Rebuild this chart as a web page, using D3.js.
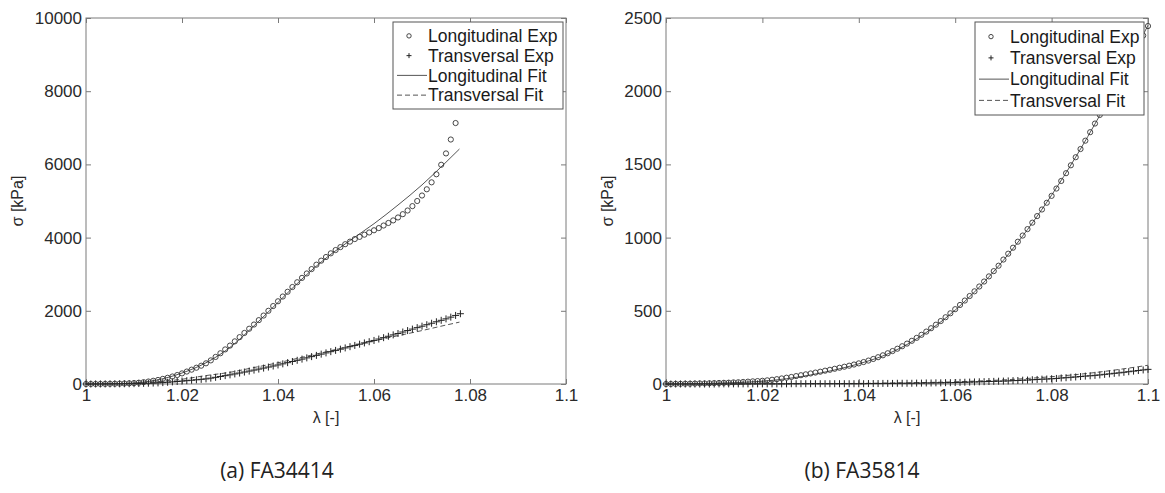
<!DOCTYPE html>
<html>
<head>
<meta charset="utf-8">
<script src="https://cdn.jsdelivr.net/npm/d3@7"></script>
<style>
  body { margin: 0; background: #fff; }
</style>
</head>
<body>
<div id="display"></div>
<script>
// ---- data ----
const xTicks = [1, 1.02, 1.04, 1.06, 1.08, 1.1];
const xTickLabels = ["1", "1.02", "1.04", "1.06", "1.08", "1.1"];
const yTicksA = [0, 2000, 4000, 6000, 8000, 10000];
const yTicksB = [0, 500, 1000, 1500, 2000, 2500];
const legendLabels = ["Longitudinal Exp", "Transversal Exp", "Longitudinal Fit", "Transversal Fit"];
const captions = ["(a) FA34414", "(b) FA35814"];

// (a) FA34414
const lamA = [1.000,1.001,1.002,1.003,1.004,1.005,1.006,1.007,1.008,1.009,
  1.010,1.011,1.012,1.013,1.014,1.015,1.016,1.017,1.018,1.019,
  1.020,1.021,1.022,1.023,1.024,1.025,1.026,1.027,1.028,1.029,
  1.030,1.031,1.032,1.033,1.034,1.035,1.036,1.037,1.038,1.039,
  1.040,1.041,1.042,1.043,1.044,1.045,1.046,1.047,1.048,1.049,
  1.050,1.051,1.052,1.053,1.054,1.055,1.056,1.057,1.058,1.059,
  1.060,1.061,1.062,1.063,1.064,1.065,1.066,1.067,1.068,1.069,
  1.070,1.071,1.072,1.073,1.074,1.075,1.076,1.077,1.078];
const longExpA = [0,0,1,2,3,5,7,10,14,19,
  25,36,50,68,88,110,140,170,205,245,
  290,340,392,445,500,565,645,740,840,945,
  1050,1165,1280,1395,1510,1625,1745,1870,2000,2130,
  2260,2390,2520,2650,2780,2900,3020,3140,3260,3370,
  3470,3570,3660,3740,3820,3890,3960,4020,4080,4140,
  4200,4260,4330,4400,4470,4550,4640,4740,4860,5000,
  5150,5320,5510,5730,5990,6300,6680,7130];
const transExpA = [0,0,1,1,2,3,4,5,7,8,
  10,13,17,21,25,30,38,48,58,68,
  80,91,103,115,127,140,160,182,205,228,
  250,275,300,327,353,380,407,435,463,491,
  520,551,583,615,647,680,714,748,782,816,
  850,884,918,952,986,1020,1054,1088,1122,1156,
  1190,1228,1266,1304,1342,1380,1420,1460,1500,1540,
  1580,1620,1660,1700,1740,1780,1827,1873,1920];
const fitLamA = [1.000,1.005,1.010,1.015,1.020,1.025,1.030,1.035,1.040,1.045,
  1.050,1.055,1.060,1.065,1.070,1.075,1.0778];
const longFitA = [0,5,28,115,300,580,1000,1590,2230,2870,3440,3920,4380,4890,5440,6060,6420];
const transFitA = [0,5,20,60,130,230,320,450,580,730,880,1030,1180,1320,1460,1610,1690];

// (b) FA35814
const lamB = [1.000,1.001,1.002,1.003,1.004,1.005,1.006,1.007,1.008,1.009,
  1.010,1.011,1.012,1.013,1.014,1.015,1.016,1.017,1.018,1.019,
  1.020,1.021,1.022,1.023,1.024,1.025,1.026,1.027,1.028,1.029,
  1.030,1.031,1.032,1.033,1.034,1.035,1.036,1.037,1.038,1.039,
  1.040,1.041,1.042,1.043,1.044,1.045,1.046,1.047,1.048,1.049,
  1.050,1.051,1.052,1.053,1.054,1.055,1.056,1.057,1.058,1.059,
  1.060,1.061,1.062,1.063,1.064,1.065,1.066,1.067,1.068,1.069,
  1.070,1.071,1.072,1.073,1.074,1.075,1.076,1.077,1.078,1.079,
  1.080,1.081,1.082,1.083,1.084,1.085,1.086,1.087,1.088,1.089,
  1.090,1.091,1.092,1.093,1.094,1.095,1.096,1.097,1.098,1.099,1.100];
const longExpB = [0,0,1,1,2,2,3,4,4,5,
  6,7,8,9,11,12,14,16,18,20,
  22,25,29,33,38,43,48,54,60,66,
  72,78,84,91,97,104,111,118,125,133,
  141,150,160,171,183,196,210,225,241,258,
  276,295,315,336,358,381,405,430,456,483,
  511,540,570,601,633,666,700,735,771,808,
  850,890,931,972,1014,1058,1102,1147,1192,1238,
  1285,1335,1387,1440,1494,1549,1605,1662,1720,1779,
  1838,1897,1957,2017,2077,2137,2197,2257,2317,2380,2445];
const transExpB = [0,0,0,0,0,0,0,0,0,0,
  0,1,1,1,1,1,1,1,1,1,
  1,1,1,1,1,1,2,2,2,2,
  2,2,2,2,2,2,2,2,2,2,
  2,2,3,3,3,4,4,4,5,5,
  5,5,6,6,7,7,8,8,9,9,
  10,11,12,13,14,15,16,17,18,19,
  20,21,23,24,26,27,29,31,33,34,
  36,38,41,43,46,48,51,54,56,59,
  62,66,69,73,76,80,84,88,92,96,100];
const fitLamB = [1.000,1.005,1.010,1.015,1.020,1.025,1.030,1.035,1.040,1.045,
  1.050,1.055,1.060,1.065,1.070,1.075,1.080,1.085,1.090,1.095,1.100];
const longFitB = [0,2,5,10,19,36,62,96,138,192,270,375,505,662,845,1055,1290,1550,1835,2135,2450];
const transFitB = [0,0,0,1,1,2,2,3,4,6,8,11,15,21,28,38,50,64,82,104,128];

// ---- drawing ----
const w = 1165, h = 493;
const svg = d3.select('#display').append('svg')
  .attr('width', w).attr('height', h)
  .style('font-family', 'Liberation Sans, Arial, sans-serif');

const panels = [
  { left: 86, right: 566, yMax: 10000, yTicks: yTicksA, lam: lamA, longExp: longExpA, transExp: transExpA,
    fitLam: fitLamA, longFit: longFitA, transFit: transFitA, yLabelX: 17,
    legend: [393, 22, 170, 87], caption: captions[0], captionX: 277 },
  { left: 666, right: 1148, yMax: 2500, yTicks: yTicksB, lam: lamB, longExp: longExpB, transExp: transExpB,
    fitLam: fitLamB, longFit: longFitB, transFit: transFitB, yLabelX: 607,
    legend: [975, 22, 169, 93], caption: captions[1], captionX: 862 }
];
const plotTop = 18, plotBottom = 384;
const axisColor = '#7a7a7a', textColor = '#2a2a2a', markColor = '#333';

panels.forEach(p => {
  const x = d3.scaleLinear().domain([1, 1.1]).range([p.left, p.right]);
  const y = d3.scaleLinear().domain([0, p.yMax]).range([plotBottom, plotTop]);
  const g = svg.append('g');

  // frame
  g.append('rect')
    .attr('x', p.left).attr('y', plotTop)
    .attr('width', p.right - p.left).attr('height', plotBottom - plotTop)
    .attr('fill', 'none').attr('stroke', axisColor).attr('stroke-width', 1);

  const fmtX = (d, i) => xTickLabels[i];
  const axes = [
    g.append('g').attr('transform', `translate(0,${plotBottom})`)
      .call(d3.axisBottom(x).tickValues(xTicks).tickFormat(fmtX).tickSize(-5).tickSizeOuter(0).tickPadding(5)),
    g.append('g').attr('transform', `translate(0,${plotTop})`)
      .call(d3.axisTop(x).tickValues(xTicks).tickFormat('').tickSize(-5).tickSizeOuter(0)),
    g.append('g').attr('transform', `translate(${p.left},0)`)
      .call(d3.axisLeft(y).tickValues(p.yTicks).tickFormat(d3.format('d')).tickSize(-5).tickSizeOuter(0).tickPadding(4)),
    g.append('g').attr('transform', `translate(${p.right},0)`)
      .call(d3.axisRight(y).tickValues(p.yTicks).tickFormat('').tickSize(-5).tickSizeOuter(0))
  ];
  axes.forEach(a => {
    a.select('.domain').remove();
    a.selectAll('line').attr('stroke', axisColor);
    a.selectAll('text').attr('fill', textColor).style('font-size', '17px');
  });

  // fitted curves
  const fitLine = d3.line().x(d => x(d[0])).y(d => y(d[1])).curve(d3.curveMonotoneX);
  g.append('path')
    .attr('d', fitLine(p.fitLam.map((l, i) => [l, p.longFit[i]])))
    .attr('fill', 'none').attr('stroke', '#555').attr('stroke-width', 1);
  g.append('path')
    .attr('d', fitLine(p.fitLam.map((l, i) => [l, p.transFit[i]])))
    .attr('fill', 'none').attr('stroke', '#555').attr('stroke-width', 1)
    .attr('stroke-dasharray', '5,3');

  // experimental points
  g.append('g').selectAll('path')
    .data(p.transExp.map((v, i) => [p.lam[i], v]))
    .join('path')
      .attr('transform', d => `translate(${x(d[0])},${y(d[1])})`)
      .attr('d', 'M-3.5,0H3.5M0,-3.5V3.5')
      .attr('stroke', '#222').attr('stroke-width', 1);
  g.append('g').selectAll('circle')
    .data(p.longExp.map((v, i) => [p.lam[i], v]))
    .join('circle')
      .attr('cx', d => x(d[0])).attr('cy', d => y(d[1]))
      .attr('r', 2.6)
      .attr('fill', 'none').attr('stroke', markColor).attr('stroke-width', 0.9);

  // axis titles
  g.append('text')
    .attr('transform', `translate(${p.yLabelX},${(plotTop + plotBottom) / 2}) rotate(-90)`)
    .attr('text-anchor', 'middle').attr('dy', '0.35em')
    .attr('fill', textColor).style('font-size', '16px')
    .text('σ [kPa]');
  g.append('text')
    .attr('x', (p.left + p.right) / 2).attr('y', 423)
    .attr('text-anchor', 'middle')
    .attr('fill', textColor).style('font-size', '16px')
    .text('λ [-]');

  // legend
  const [lx, ly, lw, lh] = p.legend;
  const lg = g.append('g');
  lg.append('rect').attr('x', lx).attr('y', ly).attr('width', lw).attr('height', lh)
    .attr('fill', '#fff').attr('stroke', '#555').attr('stroke-width', 1);
  const rowH = (lh - 8) / 4;
  legendLabels.forEach((lab, i) => {
    const cy = ly + 4 + rowH * (i + 0.5);
    const sx = lx + 16;
    if (i === 0) {
      lg.append('circle').attr('cx', sx).attr('cy', cy).attr('r', 2.2)
        .attr('fill', 'none').attr('stroke', markColor).attr('stroke-width', 0.9);
    } else if (i === 1) {
      lg.append('path').attr('transform', `translate(${sx},${cy})`)
        .attr('d', 'M-2.5,0H2.5M0,-2.5V2.5').attr('stroke', '#222').attr('stroke-width', 1);
    } else {
      lg.append('line').attr('x1', lx + 4).attr('x2', lx + 34).attr('y1', cy).attr('y2', cy)
        .attr('stroke', '#555').attr('stroke-width', 1)
        .attr('stroke-dasharray', i === 3 ? '5,3' : null);
    }
    lg.append('text').attr('x', lx + 35).attr('y', cy).attr('dy', '0.35em')
      .attr('fill', '#1a1a1a').style('font-size', '17.5px')
      .text(lab);
  });

  // caption
  svg.append('text')
    .attr('x', p.captionX).attr('y', 478)
    .attr('text-anchor', 'middle')
    .attr('fill', '#222')
    .style('font-family', 'Open Sans, Noto Sans, sans-serif')
    .style('font-size', '21px')
    .text(p.caption);
});
</script>
</body>
</html>
